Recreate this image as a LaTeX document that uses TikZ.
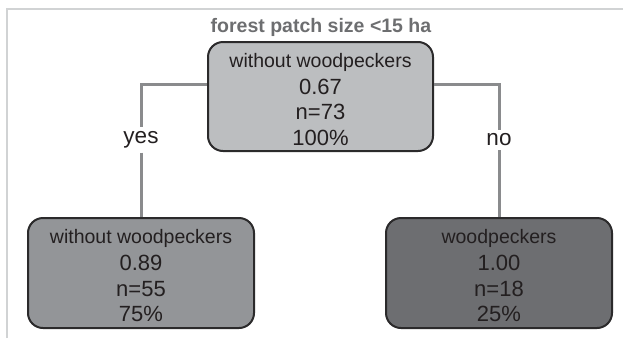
\documentclass[tikz,border=0pt]{standalone}
\usepackage{fontspec}
\setmainfont{Liberation Sans}
\definecolor{ink}{HTML}{231F20}
\definecolor{boxline}{HTML}{2B2A2B}
\definecolor{edgegray}{HTML}{8A8B8D}
\definecolor{titlegray}{HTML}{6D6E70}
\definecolor{framegray}{HTML}{D1D3D4}
\definecolor{rootfill}{HTML}{BCBEC0}
\definecolor{leftfill}{HTML}{939598}
\definecolor{rightfill}{HTML}{6D6E71}

\begin{document}
\begin{tikzpicture}[x=1pt,y=-1pt,
  leaf/.style={draw=boxline, line width=2pt, rounded corners=15pt,
    minimum width=226pt, minimum height=110pt, align=center, text=ink,
    font=\fontsize{22}{25.5}\selectfont, text height=97pt, text depth=0pt},
  branch/.style={draw=edgegray, line width=3pt},
  answer/.style={fill=white, inner sep=4pt, text=ink,
    font=\fontsize{22.5}{26}\selectfont}]
  \useasboundingbox (0,0) rectangle (623,338);
  \draw[framegray, line width=1.5pt] (7,338) -- (7,9) -- (623,9);

  \node[anchor=base, text=titlegray, font=\fontsize{19.5}{22}\selectfont\bfseries]
      (split) at (321,32.5) {forest patch size <15 ha};

  \node[leaf, fill=rootfill, minimum width=225pt, minimum height=109pt] (root)
      at (320.5,96.5)
      {{\fontsize{19.5}{25.5}\selectfont without woodpeckers}\\[1.5pt] 0.67\\ n=73\\ 100\%};

  \foreach \name/\cx/\tone/\what/\val/\cnt/\pct in
      {left/141/leftfill/without woodpeckers/0.89/55/75,
       right/499/rightfill/woodpeckers/1.00/18/25}
    \node[leaf, fill=\tone] (\name) at (\cx,273)
      {{\fontsize{19.5}{25.5}\selectfont \what}\\[1.5pt] \val\\ n=\cnt\\ \pct\%};

  \foreach \side/\word/\edge in {left/yes/west, right/no/east} {
    \coordinate (turn-\word) at (\side.north |- 0,84);
    \node[answer] (\word) at (\side.north |- 0,140) {\word};
    \draw[branch] (root.\edge |- turn-\word) -- (turn-\word) -- (\word)
      -- (\side.north);
  }
\end{tikzpicture}
\end{document}
